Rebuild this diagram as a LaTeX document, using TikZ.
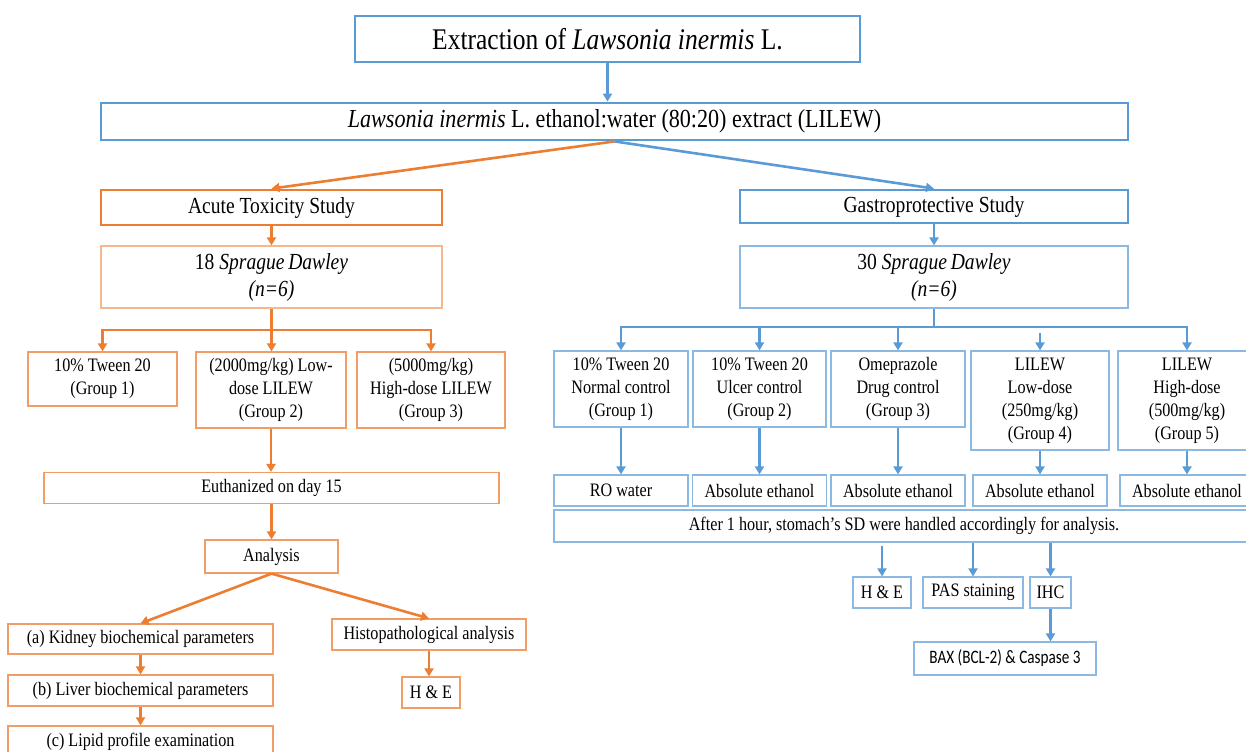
\documentclass[tikz,border=0pt]{standalone}
\usepackage{fontspec}
\setmainfont{Liberation Serif}[FakeStretch=0.85]
\newfontfamily\caliber{Carlito}[FakeStretch=0.8]
\usetikzlibrary{arrows.meta}
\definecolor{toxorange}{RGB}{237,125,49}
\definecolor{gasblue}{RGB}{91,155,213}

\begin{document}
\begin{tikzpicture}[x=0.5pt,y=-0.5pt,
    box/.style={draw,inner sep=0pt,align=center,font=\fontsize{9.5}{11.5}\selectfont},
    obox/.style={box,draw=toxorange!75,line width=0.6pt},
    bbox/.style={box,draw=gasblue!70,line width=0.6pt},
    othick/.style={box,draw=toxorange,line width=1.4pt,font=\fontsize{11.5}{13.5}\selectfont},
    bthick/.style={box,draw=gasblue,line width=1.4pt,font=\fontsize{11.5}{13.5}\selectfont},
    oarr/.style={draw=toxorange,line width=1.3pt,-{Triangle[length=4pt,width=4.5pt]}},
    barr/.style={draw=gasblue,line width=1.3pt,-{Triangle[length=4pt,width=4.5pt]}}]
  \useasboundingbox (0,0) rectangle (1246,751);
  % extraction
  \node[bthick,minimum width=252.5pt,minimum height=23pt,font=\fontsize{15}{18}\selectfont] (extraction) at (607.5,39) {Extraction of \textit{Lawsonia inermis} L.};
  \node[bthick,minimum width=513.5pt,minimum height=18.5pt,font=\fontsize{13}{15}\selectfont] (lilew) at (614.5,121.5) {\textit{Lawsonia inermis} L. ethanol:water (80:20) extract (LILEW)};
  \draw[barr] (extraction.south) -- (extraction.south |- lilew.north);
  \coordinate (fork) at (lilew.south);
  % acute toxicity
  \node[othick,minimum width=170.5pt,minimum height=17.5pt] (acute) at (271.5,207.5) {Acute Toxicity Study};
  \node[obox,draw=toxorange!55,font=\fontsize{11.5}{13.5}\selectfont,minimum width=170.5pt,minimum height=31pt] (rats18) at (271.5,277) {18 \textit{Sprague\,Dawley}\\\textit{(n=6)}};
  \node[obox,minimum width=74.5pt,minimum height=27pt] (tox1) at (102.5,379) {10\% Tween 20\\(Group 1)};
  \node[obox,minimum width=75pt,minimum height=38pt] (tox2) at (271,390) {(2000mg/kg) Low-\\dose LILEW\\(Group 2)};
  \node[obox,minimum width=74pt,minimum height=38pt] (tox3) at (431,390) {(5000mg/kg)\\High-dose LILEW\\(Group 3)};
  \node[obox,minimum width=227.5pt,minimum height=15.5pt] (euth) at (271.5,488) {Euthanized on day 15};
  \node[obox,minimum width=66.5pt,minimum height=16.5pt] (analysis) at (271.5,556.5) {Analysis};
  \node[obox,minimum width=132.5pt,minimum height=15pt] (kidney) at (140.5,639) {(a) Kidney biochemical parameters};
  \node[obox,minimum width=132.5pt,minimum height=15.5pt] (liver) at (140.5,690.5) {(b) Liver biochemical parameters};
  \node[obox,minimum width=132.5pt,minimum height=16pt] (lipid) at (140.5,742) {(c) Lipid profile examination};
  \node[obox,minimum width=97pt,minimum height=15.5pt] (histo) at (429,634.5) {Histopathological analysis};
  \node[obox,minimum width=29pt,minimum height=15.5pt] (he1) at (431,692.5) {H \& E};
  \coordinate (osplit) at (271.5,330);
  \draw[oarr] (fork) -- (acute.north);
  \draw[oarr] (acute) -- (rats18);
  \draw[oarr] (rats18.south) -- (rats18.south |- tox2.north);
  \draw[oarr] (osplit) -| (tox1.north);
  \draw[oarr] (osplit) -| (tox3.north);
  \draw[oarr] (tox2.south) -- (tox2.south |- euth.north);
  \draw[oarr] (euth) -- (analysis);
  \draw[oarr] (analysis.south) -- (kidney.north);
  \draw[oarr] (analysis.south) -- (histo.north);
  \draw[oarr] (kidney) -- (liver);
  \draw[oarr] (liver) -- (lipid);
  \draw[oarr] (histo.south) -- (histo.south |- he1.north);
  % gastroprotective
  \node[bthick,minimum width=194pt,minimum height=16.5pt] (gastro) at (934,206.5) {Gastroprotective Study};
  \node[bbox,font=\fontsize{11.5}{13.5}\selectfont,minimum width=194pt,minimum height=31pt] (rats30) at (934,277) {30 \textit{Sprague\,Dawley}\\\textit{(n=6)}};
  \node[bbox,minimum width=67pt,minimum height=38pt] (grp1) at (621,389) {10\% Tween 20\\Normal control\\(Group 1)};
  \node[bbox,minimum width=66.5pt,minimum height=38pt] (grp2) at (759.5,389) {10\% Tween 20\\Ulcer control\\(Group 2)};
  \node[bbox,minimum width=67pt,minimum height=38pt] (grp3) at (898,389) {Omeprazole\\Drug control\\(Group 3)};
  \node[bbox,minimum width=69pt,minimum height=49.5pt] (grp4) at (1040,400.5) {LILEW\\Low-dose\\(250mg/kg)\\(Group 4)};
  \node[bbox,minimum width=69pt,minimum height=49.5pt] (grp5) at (1187,400.5) {LILEW\\High-dose\\(500mg/kg)\\(Group 5)};
  \foreach \n/\x/\t in {1/621/RO water, 2/759.5/Absolute ethanol, 3/898/Absolute ethanol, 4/1040/Absolute ethanol, 5/1187/Absolute ethanol}{
    \node[bbox,minimum width=67pt,minimum height=15.5pt] (ind\n) at (\x,490.5) {\t};
  }
  \node[bbox,minimum width=350pt,minimum height=16pt] (after) at (904,526) {After 1 hour, stomach's SD were handled accordingly for analysis.};
  \node[bbox,minimum width=29pt,minimum height=15.5pt] (he2) at (882,592.5) {H \& E};
  \node[bbox,minimum width=50pt,minimum height=15.5pt] (pas) at (973,592.5) {PAS staining};
  \node[bbox,minimum width=20.5pt,minimum height=15.5pt] (ihc) at (1050.5,592.5) {IHC};
  \node[bbox,minimum width=91pt,minimum height=16.5pt,font=\caliber\fontsize{9.5}{11}\selectfont] (bax) at (1005,658.5) {BAX (BCL-2) \& Caspase 3};
  \coordinate (bsplit) at (934,327);
  \draw[barr] (fork) -- (gastro.north);
  \draw[barr] (gastro) -- (rats30);
  \draw[gasblue,line width=1.3pt] (rats30.south) -- (bsplit);
  \draw[barr] (bsplit) -| (grp1.north);
  \draw[barr] (bsplit) -| (grp5.north);
  \foreach \g in {2,3}{
    \draw[barr] (bsplit -| grp\g.north) -- (grp\g.north);
  }
  \draw[barr] ([yshift=-3pt]bsplit -| grp4.north) -- (grp4.north);
  \foreach \g in {1,...,5}{
    \draw[barr] (grp\g) -- (ind\g);
  }
  \draw[barr] ([yshift=-1.5pt]after.south -| he2.north) -- (he2.north);
  \draw[barr] (after.south -| pas.north) -- (pas.north);
  \draw[barr] (after.south -| ihc.north) -- (ihc.north);
  \draw[barr] (ihc.south) -- (ihc.south |- bax.north);
\end{tikzpicture}
\end{document}
